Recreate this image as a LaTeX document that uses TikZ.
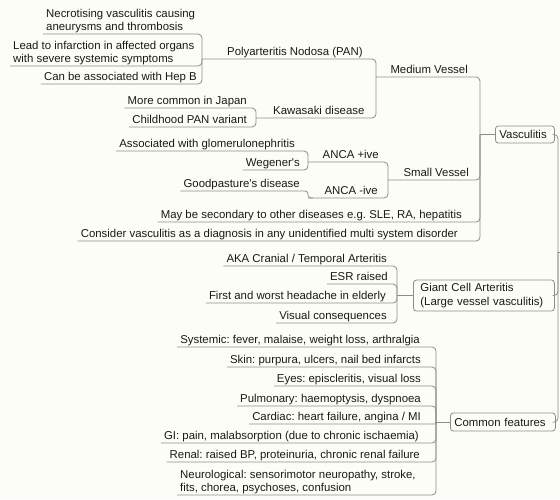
\documentclass[tikz,border=0pt]{standalone}
\usepackage{fontspec}
\setmainfont{Liberation Sans}[Ligatures=TeXOff]
\frenchspacing
\definecolor{bg}{RGB}{253,253,247}
\definecolor{ln}{RGB}{140,140,140}
\definecolor{tx}{RGB}{25,25,25}
\tikzset{
  lf/.style={inner xsep=0pt, inner ysep=3pt, text depth=0pt, text=tx,
    font=\fontsize{11.4}{13.5}\selectfont},
  conn/.style={draw=ln, line width=0.8pt, rounded corners=4pt},
  topbox/.style={draw=ln, line width=0.8pt, rounded corners=3pt, fill=bg, text=tx,
    anchor=west, align=left, inner ysep=0pt, font=\fontsize{11.4}{13.5}\selectfont},
}
\newcommand{\twol}[2]{\begin{tabular}[b]{@{}l@{}}#1\\#2\end{tabular}}
\begin{document}
\frenchspacing
\begin{tikzpicture}[x=1pt,y=-1pt]
\fill[bg] (0,0) rectangle (560,499);
\useasboundingbox (0,0) rectangle (560,499);

% ---- Medium vessel branch
\node[lf, anchor=south west] (nec) at (46,34) {\twol{Necrotising vasculitis causing}{aneurysms and thrombosis}};
\node[lf, anchor=south west] (lead) at (13,66) {\twol{Lead to infarction in affected organs}{with severe systemic symptoms}};
\node[lf, anchor=south east] (hepb) at (197,84) {Can be associated with Hep B};
\coordinate (jpan) at (202,59);
\node[lf, anchor=south west] (pan) at (227,59) {Polyarteritis Nodosa (PAN)};
\node[lf, anchor=south east] (japan) at (247,108) {More common in Japan};
\node[lf, anchor=south east] (child) at (247,127) {Childhood PAN variant};
\coordinate (jkaw) at (256,118);
\node[lf, anchor=south west] (kaw) at (273,118) {Kawasaki disease};
\coordinate (jmed) at (376,77);
\node[lf, anchor=south east] (med) at (468,77) {Medium Vessel};
\coordinate (jvasc) at (480,134.5);
\node[topbox, minimum height=17pt, inner xsep=4pt, text width=51pt] (vasc) at (495,134.5) {Vasculitis};

% ---- Small vessel branch
\node[lf, anchor=south east] (glom) at (295,151) {Associated with glomerulonephritis};
\node[lf, anchor=south east] (weg) at (300,170) {Wegener's};
\coordinate (jancp) at (308,162);
\node[lf, anchor=south east] (ancp) at (379,162) {ANCA +ive};
\node[lf, anchor=south east] (good) at (300,191) {Goodpasture's disease};
\coordinate (jancm) at (308,198);
\node[lf, anchor=south east] (ancm) at (378,198) {ANCA -ive};
\coordinate (jsmall) at (388,180);
\node[lf, anchor=south east] (small) at (469,180) {Small Vessel};
\node[lf, anchor=south east] (sec) at (462,222) {May be secondary to other diseases e.g. SLE, RA, hepatitis};
\node[lf, anchor=south east] (cons) at (458,241) {Consider vasculitis as a diagnosis in any unidentified multi system disorder};

% ---- Giant cell arteritis
\node[lf, anchor=south east] (aka) at (387,266) {AKA Cranial / Temporal Arteritis};
\node[lf, anchor=south east] (esr) at (388,284) {ESR raised};
\node[lf, anchor=south east] (first) at (386,303) {First and worst headache in elderly};
\node[lf, anchor=south east] (visual) at (387,323) {Visual consequences};
\coordinate (jgca) at (397,295.5);
\node[topbox, minimum height=31pt, inner xsep=7pt, text width=127pt] (gca) at (413,295.5) {Giant Cell Arteritis\\(Large vessel vasculitis)};

% ---- Common features
\node[lf, anchor=south east] (sys) at (420,347) {Systemic: fever, malaise, weight loss, arthralgia};
\node[lf, anchor=south east] (skin) at (421,367) {Skin: purpura, ulcers, nail bed infarcts};
\node[lf, anchor=south east] (eyes) at (421,386) {Eyes: episcleritis, visual loss};
\node[lf, anchor=south east] (pulm) at (421,406) {Pulmonary: haemoptysis, dyspnoea};
\node[lf, anchor=south east] (card) at (421,424) {Cardiac: heart failure, angina / MI};
\node[lf, anchor=south east] (gi) at (419,443) {GI: pain, malabsorption (due to chronic ischaemia)};
\node[lf, anchor=south east] (renal) at (420,462) {Renal: raised BP, proteinuria, chronic renal failure};
\node[lf, anchor=south west] (neuro) at (180,495) {\twol{Neurological: sensorimotor neuropathy, stroke,}{fits, chorea, psychoses, confusion}};
\coordinate (jcf) at (436,422);
\node[topbox, minimum height=18pt, inner xsep=4pt, text width=97pt] (cf) at (450,422) {Common features};

\coordinate (jroot) at (558,252);

% ---- connectors
\foreach \n in {nec,lead,hepb} \draw[conn] ([xshift=-3pt]\n.south west) -| (jpan);
\draw[conn] (jpan) -| (jmed);
\foreach \n in {japan,child} \draw[conn] ([xshift=-3pt]\n.south west) -| (jkaw);
\draw[conn] (jkaw) -| (jmed);
\draw[conn] (jmed) -| (jvasc);
\foreach \n in {glom,weg} \draw[conn] ([xshift=-3pt]\n.south west) -| (jancp);
\draw[conn] (jancp) -| (jsmall);
\draw[conn, rounded corners=3pt] ([xshift=-3pt]good.south west) -| (jancm) -- ++(5,0);
\draw[conn] (jancm) -| (jsmall);
\draw[conn] (jsmall) -| (jvasc);
\foreach \n in {sec,cons} \draw[conn] ([xshift=-3pt]\n.south west) -| (jvasc);
\draw[conn] (jvasc) -- (vasc.west);

\foreach \n in {aka,esr,first,visual} \draw[conn] ([xshift=-3pt]\n.south west) -| (jgca);
\draw[conn] (jgca) -- (gca.west);

\foreach \n in {sys,skin,eyes,pulm,gi,renal,neuro} \draw[conn] ([xshift=-3pt]\n.south west) -| (jcf);
\draw[conn, rounded corners=1pt] ([xshift=-3pt]card.south west) -| (jcf);
\draw[conn] (jcf) -- (cf.west);

\foreach \n in {vasc,gca,cf} \draw[conn] (\n.east) -| (jroot);
\draw[conn] (jroot) -- ++(4,0);
\end{tikzpicture}
\end{document}
